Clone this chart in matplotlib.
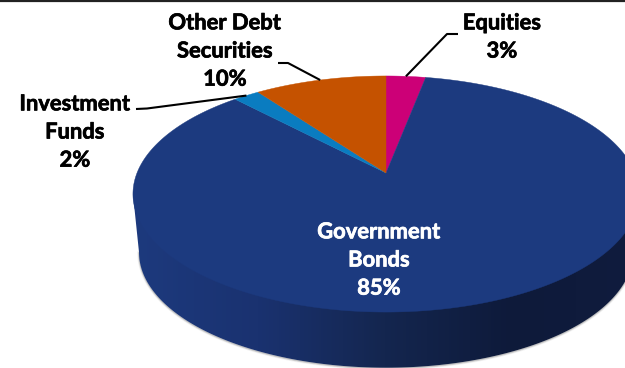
"""Government-heavy portfolio split, drawn as a tilted 3D-style pie."""
import matplotlib.patheffects as pe
import matplotlib.pyplot as plt
import numpy as np
from matplotlib.colors import LinearSegmentedColormap
from matplotlib.patches import Polygon

plt.rcParams["font.family"] = ["Lato", "DejaVu Sans"]

# clockwise from twelve o'clock
categories = ["Equities", "Government\nBonds", "Investment\nFunds", "Other Debt\nSecurities"]
shares = [3, 85, 2, 10]
slice_colors = ["#CC0077", "#1C3A7F", "#0A7CC0", "#C55200"]
side_colors = ["#1D3A7E", "#1A3270", "#14264F", "#0E1A3A", "#101C3E"]

# pie geometry in pixels: apex, radii and perspective strength
CX, CY = 386.0, 173.0
RX, RY = 249.0, 114.3
PERSP = 0.178
DEPTH = 59.0
BASE_SCALE = 0.976


def project(theta_deg, scale=1.0, dy=0.0):
    """Map clockwise pie angles onto the tilted disc (pixel coordinates)."""
    t = np.radians(theta_deg)
    u, v = np.sin(t), np.cos(t)
    w = 1 + PERSP * v
    return CX + scale * RX * u / w, CY + dy - scale * RY * v / w


fig = plt.figure(figsize=(6.25, 3.68), dpi=100)
ax = fig.add_axes([0, 0, 1, 1])
ax.axis("off")

theta = np.linspace(0, 360, 1441)
top_x, top_y = project(theta)
base_x, base_y = project(theta, BASE_SCALE, DEPTH)

# outline of the side wall: front half of the base, closed across the top disc
i_left, i_right = np.argmin(base_x), np.argmax(base_x)
front = np.arange(i_right, i_left + 1)
wall = np.column_stack([
    np.r_[base_x[front], top_x[np.argmin(top_x)], top_x[np.argmax(top_x)]],
    np.r_[base_y[front], top_y[np.argmin(top_x)], top_y[np.argmax(top_x)]],
])

# soft shadow hugging the lower rim
for lw, alpha in [(2.6, 0.07), (1.6, 0.13), (0.8, 0.22)]:
    ax.plot(base_x[front], base_y[front] + 0.5, color="#555555", lw=lw, alpha=alpha, zorder=1)

wall_patch = Polygon(wall, closed=True, fc="none", ec="none", zorder=2)
ax.add_patch(wall_patch)
side_cmap = LinearSegmentedColormap.from_list("side", side_colors)
grad = ax.imshow(
    np.linspace(0, 1, 256)[None, :],
    cmap=side_cmap,
    extent=(130, 640, 380, 150),
    aspect="auto",
    zorder=2,
)
grad.set_clip_path(wall_patch)

# top face, one polygon per slice
edges = np.cumsum([0] + shares) * 3.6
for start, stop, color in zip(edges[:-1], edges[1:], slice_colors):
    arc = np.linspace(start, stop, max(int(stop - start) * 4, 8))
    x, y = project(arc)
    ax.add_patch(Polygon(np.column_stack([np.r_[CX, x], np.r_[CY, y]]), closed=True,
                         fc=color, ec=color, lw=0.3, zorder=3))

mid = (edges[:-1] + edges[1:]) / 2

# leader elbows sit next to their outside labels
elbows = {
    0: [(458, 34), (447, 34)],
    2: [(136, 109), (147, 108.5)],
    3: [(278, 63), (288, 63)],
}
for i, pts in elbows.items():
    ex, ey = project(mid[i])
    xs, ys = zip(*pts, (float(ex), float(ey)))
    ax.plot(xs, ys, color="black", lw=1.5, solid_capstyle="butt", zorder=4)

label_pos = [(502, 37), (379, 260), (75, 132), (225, 51)]
label_colors = ["black", "white", "black", "black"]
for name, share, (lx, ly), c in zip(categories, shares, label_pos, label_colors):
    t = ax.text(lx, ly, f"{name}\n{share}%", color=c, fontsize=15.8, fontweight="bold",
                ha="center", va="center", linespacing=1.42, zorder=5)
    t.set_path_effects([pe.withStroke(linewidth=0.5, foreground=c)])

# rule along the top edge
ax.plot([0, 625], [0.6, 0.6], color="#222222", lw=1.6, zorder=6)

ax.set_xlim(0, 625)
ax.set_ylim(368, 0)
fig.savefig("out.png", dpi=100)
